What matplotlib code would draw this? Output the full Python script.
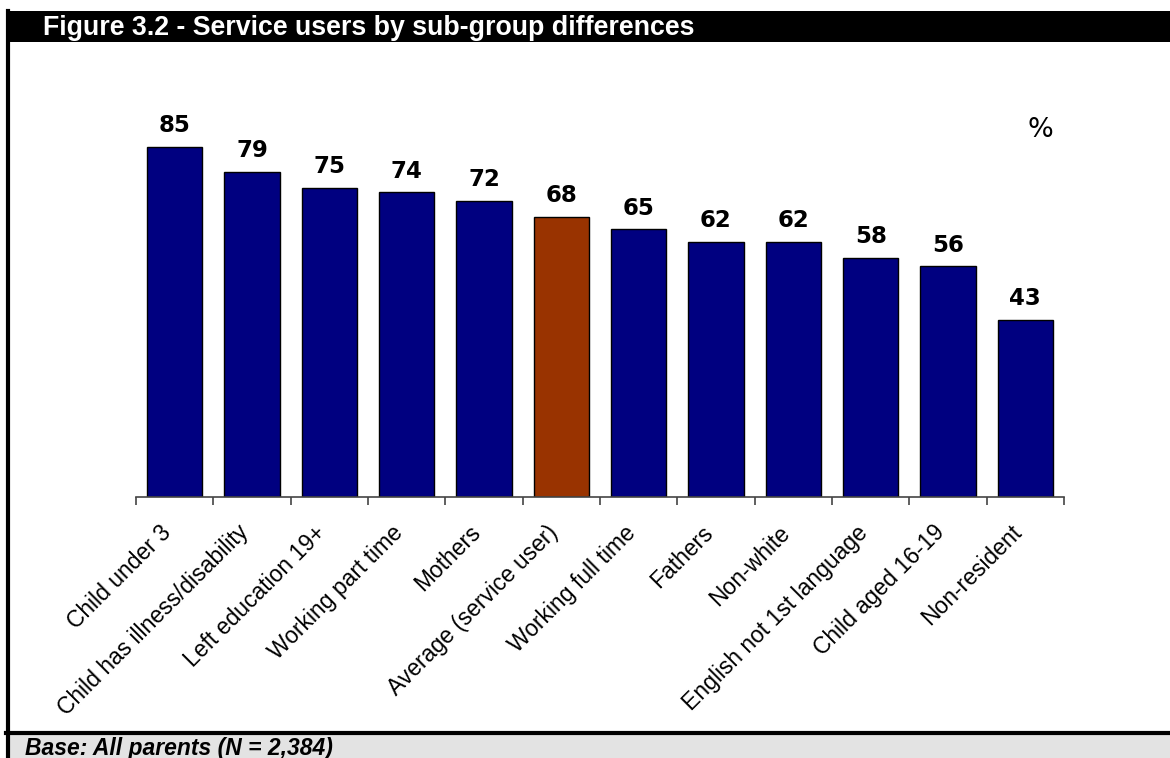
import matplotlib
matplotlib.use("Agg")
import matplotlib.pyplot as plt
from matplotlib.patches import Rectangle
from matplotlib.lines import Line2D
import matplotlib.transforms as mtransforms

categories = [
    "Child under 3", "Child has illness/disability", "Left education 19+",
    "Working part time", "Mothers", "Average (service user)",
    "Working full time", "Fathers", "Non-white", "English not 1st language",
    "Child aged 16-19", "Non-resident",
]
values = [85, 79, 75, 74, 72, 68, 65, 62, 62, 58, 56, 43]
highlight = "Average (service user)"

title = "Figure 3.2 - Service users by sub-group differences"
footnote = "Base: All parents (N = 2,384)"

W, H = 1170, 758
fig = plt.figure(figsize=(W / 100, H / 100), dpi=100)


def fx(x):
    return x / W


def fy(y):
    return 1 - y / H


# page furniture: title band, left rule, footnote band
fig.add_artist(Rectangle((fx(6), fy(42)), 1, (42 - 11) / H, transform=fig.transFigure,
                         facecolor="black", edgecolor="none"))
fig.add_artist(Rectangle((fx(6), 0), 1, fy(733), transform=fig.transFigure,
                         facecolor="#e3e3e3", edgecolor="none"))
fig.add_artist(Line2D([fx(6), 1], [fy(733), fy(733)], transform=fig.transFigure,
                      color="black", lw=3))
fig.add_artist(Line2D([fx(7.5), fx(7.5)], [0, fy(11)], transform=fig.transFigure,
                      color="black", lw=3))

fig.text(fx(43), fy(35), title, color="white", fontsize=19.3, fontweight="bold",
         family="Liberation Sans", va="baseline", ha="left")
fig.text(fx(25), fy(755), footnote, color="black", fontsize=16.5, fontweight="bold",
         style="italic", family="Liberation Sans", va="baseline", ha="left")
fig.text(fx(1040), fy(130), "%", fontsize=19.5, family="DejaVu Sans",
         ha="center", va="center")

# plot area
base_y = 497
ppu = (base_y - 147) / 85
ax = fig.add_axes([fx(136), fy(base_y), (1064 - 136) / W, 100 * ppu / H])

x = range(len(categories))
colors = ["#993300" if c == highlight else "#000080" for c in categories]
bars = ax.bar(x, values, width=0.714, color=colors, edgecolor="black", linewidth=1)

for b, v in zip(bars, values):
    ax.annotate(f"{v}", (b.get_x() + b.get_width() / 2, v), xytext=(0, 7),
                textcoords="offset points", ha="center", va="bottom",
                fontsize=16.5, fontweight="bold", family="DejaVu Sans")

ax.set_xlim(-0.5, len(categories) - 0.5)
ax.set_ylim(0, 100)
ax.set_yticks([])
ax.set_xticks([i - 0.5 for i in range(len(categories) + 1)])
ax.set_xticklabels([])
ax.tick_params(axis="x", length=6, width=1.2, color="#444444", direction="out")
for s in ["top", "right", "left"]:
    ax.spines[s].set_visible(False)
ax.spines["bottom"].set_color("#444444")
ax.spines["bottom"].set_linewidth(1.2)
ax.patch.set_visible(False)

# rotated category labels, top-right corner hung just under the axis
offset = mtransforms.ScaledTranslation(-15 / 100, -24 / 100, fig.dpi_scale_trans)
for i, c in enumerate(categories):
    ax.text(i, 0, c, rotation=45, rotation_mode="anchor", ha="right", va="top",
            fontsize=16.5, family="Liberation Sans",
            transform=ax.transData + offset)

fig.savefig("out.png", dpi=100)
